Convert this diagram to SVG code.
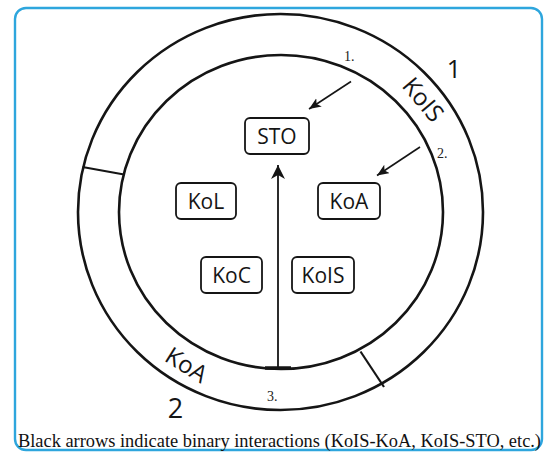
<svg xmlns="http://www.w3.org/2000/svg" width="545" height="454" viewBox="0 0 545 454">
<style>
.ring{fill:none;stroke:#151515;stroke-width:2.6}
.box{fill:#fff;stroke:#151515;stroke-width:1.8}
.lbl{font-family:"Open Sans","DejaVu Sans",sans-serif;font-size:21px;fill:#151515;text-anchor:middle}
.big{font-family:"Open Sans","DejaVu Sans",sans-serif;fill:#151515;text-anchor:middle}
.num{font-family:"Liberation Serif","Times New Roman",serif;font-size:14px;fill:#222}
.ln{stroke:#151515;fill:none}
</style>
<defs>
<marker id="ahBig" markerUnits="userSpaceOnUse" markerWidth="16" markerHeight="16" refX="14" refY="7" orient="auto">
<path d="M0,0 L14,7 L0,14 L4,7 z" fill="#151515"/>
</marker>
<marker id="ahSm" markerUnits="userSpaceOnUse" markerWidth="14" markerHeight="12" refX="12" refY="5" orient="auto">
<path d="M0,0 L12,5 L0,10 L3,5 z" fill="#151515"/>
</marker>
</defs>
<rect x="0" y="0" width="545" height="454" fill="#fff"/>
<rect x="15" y="8" width="527" height="442" rx="11" fill="#fff" stroke="#2ea6dd" stroke-width="2.4"/>

<g id="rings">
<ellipse class="ring" cx="280.5" cy="212" rx="202.5" ry="198"/>
<ellipse class="ring" cx="281" cy="212" rx="162" ry="157"/>
<line class="ln" x1="82.5" y1="167" x2="124" y2="174.5" stroke-width="2.2"/>
<line class="ln" x1="360.5" y1="351.5" x2="384" y2="387" stroke-width="2.2"/>
<text class="big" font-size="24" transform="translate(424,99) rotate(50)" dominant-baseline="central">KoIS</text>
<text class="big" font-size="24" transform="translate(187,364) rotate(32)" dominant-baseline="central">KoA</text>
<text class="big" font-size="25" x="454" y="78">1</text>
<text class="big" font-size="27" x="175.5" y="418">2</text>
<text class="num" x="344" y="61">1.</text>
<text class="num" x="437" y="158">2.</text>
<text class="num" x="267" y="401">3.</text>
</g>

<g id="connectors">
<line class="ln" x1="278" y1="368" x2="278" y2="165" stroke-width="1.8" marker-end="url(#ahBig)"/>
<line class="ln" x1="265" y1="368" x2="291" y2="368" stroke-width="3.5"/>
<line class="ln" x1="351" y1="81.5" x2="309" y2="109" stroke-width="1.6" marker-end="url(#ahSm)"/>
<line class="ln" x1="420" y1="147" x2="377" y2="175.5" stroke-width="1.6" marker-end="url(#ahSm)"/>
</g>

<g id="STO"><rect class="box" x="245" y="118" width="64" height="36" rx="5"/><text class="lbl" x="277" y="143.5">STO</text></g>
<g id="KoL"><rect class="box" x="176" y="183" width="60" height="36" rx="5"/><text class="lbl" x="206" y="208.5">KoL</text></g>
<g id="KoA"><rect class="box" x="318" y="183" width="62" height="36" rx="5"/><text class="lbl" x="349" y="208.5">KoA</text></g>
<g id="KoC"><rect class="box" x="201" y="257" width="61" height="36" rx="5"/><text class="lbl" x="231.5" y="282.5">KoC</text></g>
<g id="KoIS"><rect class="box" x="292" y="257" width="62" height="36" rx="5"/><text class="lbl" x="323" y="282.5">KoIS</text></g>

<text x="18" y="447" font-family="Liberation Serif,'Times New Roman',serif" font-size="18" fill="#111" textLength="523" lengthAdjust="spacingAndGlyphs">Black arrows indicate binary interactions (KoIS-KoA, KoIS-STO, etc.)</text>
</svg>
